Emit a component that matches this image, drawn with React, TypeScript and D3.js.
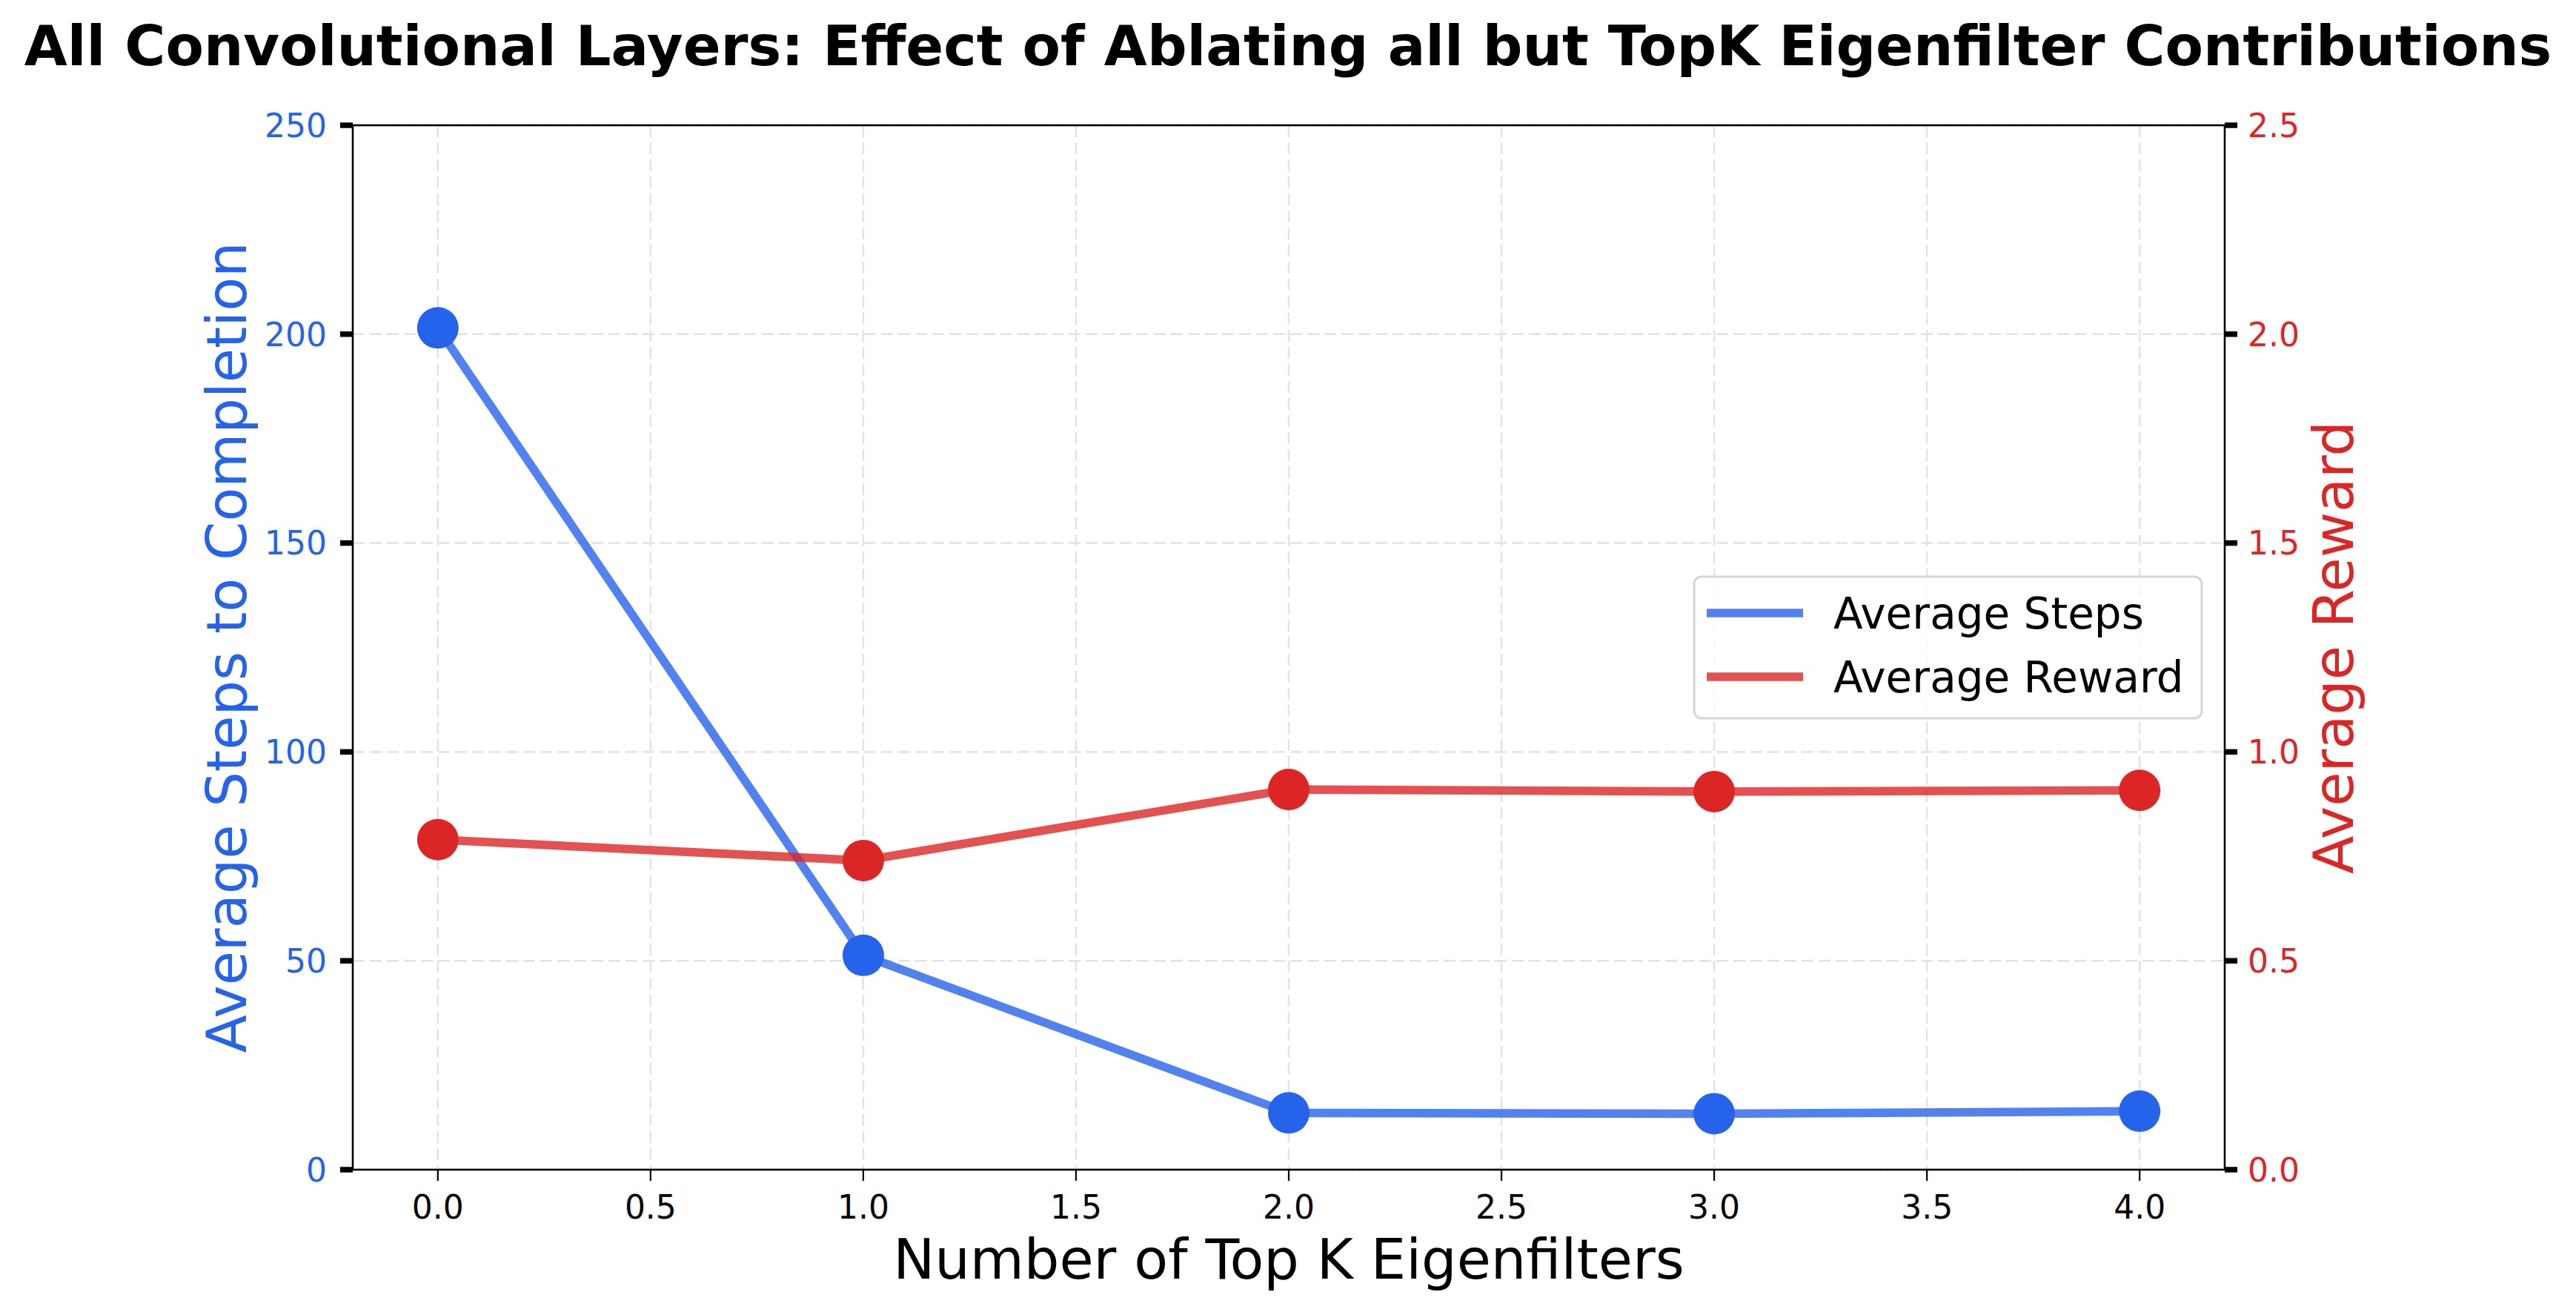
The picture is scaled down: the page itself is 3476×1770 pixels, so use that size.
import React from "react";
import * as d3 from "d3";

// values
const topK = [0, 1, 2, 3, 4];
const avgSteps = [201.5, 51.3, 13.6, 13.4, 14.0];
const avgReward = [0.79, 0.74, 0.91, 0.905, 0.908];
const xTicks = [0, 0.5, 1, 1.5, 2, 2.5, 3, 3.5, 4];
const stepTicks = [0, 50, 100, 150, 200, 250];
const rewardTicks = [0, 0.5, 1.0, 1.5, 2.0, 2.5];
const seriesNames = ["Average Steps", "Average Reward"];

const W = 3476;
const H = 1770;
const margin = { top: 169, right: 474, bottom: 192, left: 476 };
const FONT = "DejaVu Sans";
const BLUE = "#2563eb";
const RED = "#dc2626";

export default function App() {
  const innerW = W - margin.left - margin.right;
  const innerH = H - margin.top - margin.bottom;

  const x = d3.scaleLinear().domain([-0.2, 4.2]).range([0, innerW]);
  const yL = d3.scaleLinear().domain([0, 250]).range([innerH, 0]);
  const yR = d3.scaleLinear().domain([0, 2.5]).range([innerH, 0]);

  const stepLine = d3
    .line<number>()
    .x((_, i) => x(topK[i]))
    .y((d) => yL(d));
  const rewardLine = d3
    .line<number>()
    .x((_, i) => x(topK[i]))
    .y((d) => yR(d));

  return (
    <svg
      width={W}
      height={H}
      style={{ position: "absolute", left: 0, top: 0, background: "#fff" }}
      fontFamily={FONT}
    >
      <text
        x={W / 2}
        y={88}
        textAnchor="middle"
        fontSize={75}
        fontWeight="bold"
        fill="#000"
      >
        All Convolutional Layers: Effect of Ablating all but TopK Eigenfilter Contributions
      </text>

      <g transform={`translate(${margin.left},${margin.top})`}>
        {/* grid */}
        {xTicks.map((t) => (
          <line
            key={"gx" + t}
            x1={x(t)}
            x2={x(t)}
            y1={0}
            y2={innerH}
            stroke="#e3e3e3"
            strokeWidth={2.5}
            strokeDasharray="16,7"
          />
        ))}
        {stepTicks.map((t) => (
          <line
            key={"gy" + t}
            x1={0}
            x2={innerW}
            y1={yL(t)}
            y2={yL(t)}
            stroke="#e3e3e3"
            strokeWidth={2.5}
            strokeDasharray="16,7"
          />
        ))}

        {/* lines */}
        <path
          d={stepLine(avgSteps) || ""}
          fill="none"
          stroke={BLUE}
          strokeOpacity={0.8}
          strokeWidth={11.5}
        />
        <path
          d={rewardLine(avgReward) || ""}
          fill="none"
          stroke={RED}
          strokeOpacity={0.8}
          strokeWidth={11.5}
        />
        {avgSteps.map((d, i) => (
          <circle key={"bs" + i} cx={x(topK[i])} cy={yL(d)} r={28} fill={BLUE} />
        ))}
        {avgReward.map((d, i) => (
          <circle key={"rr" + i} cx={x(topK[i])} cy={yR(d)} r={28} fill={RED} />
        ))}

        {/* spines */}
        <rect
          x={0}
          y={0}
          width={innerW}
          height={innerH}
          fill="none"
          stroke="#000"
          strokeWidth={2.6}
        />

        {/* x axis */}
        {xTicks.map((t) => (
          <g key={"xt" + t} transform={`translate(${x(t)},${innerH})`}>
            <line y1={0} y2={15} stroke="#000" strokeWidth={2.2} />
            <text y={66} textAnchor="middle" fontSize={44} fill="#000">
              {d3.format(".1f")(t)}
            </text>
          </g>
        ))}

        {/* left axis */}
        {stepTicks.map((t) => (
          <g key={"yl" + t} transform={`translate(0,${yL(t)})`}>
            <line x1={-17} x2={0} stroke="#000" strokeWidth={7.5} />
            <text x={-35} dy="0.36em" textAnchor="end" fontSize={44} fill={BLUE}>
              {t}
            </text>
          </g>
        ))}

        {/* right axis */}
        {rewardTicks.map((t) => (
          <g key={"yr" + t} transform={`translate(${innerW},${yR(t)})`}>
            <line x1={0} x2={17} stroke="#000" strokeWidth={7.5} />
            <text x={31} dy="0.36em" textAnchor="start" fontSize={44} fill={RED}>
              {d3.format(".1f")(t)}
            </text>
          </g>
        ))}

        {/* axis labels */}
        <text
          x={innerW / 2}
          y={innerH + 147}
          textAnchor="middle"
          fontSize={75}
          fill="#000"
        >
          Number of Top K Eigenfilters
        </text>
        <text
          transform={`translate(${332 - margin.left},${innerH / 2}) rotate(-90)`}
          textAnchor="middle"
          fontSize={75}
          fill={BLUE}
        >
          Average Steps to Completion
        </text>
        <text
          transform={`translate(${3175 - margin.left},${innerH / 2}) rotate(-90)`}
          textAnchor="middle"
          fontSize={75}
          fill={RED}
        >
          Average Reward
        </text>

        {/* legend */}
        <g transform={`translate(${2286 - margin.left},${778 - margin.top})`}>
          <rect
            x={0}
            y={0}
            width={685}
            height={191}
            rx={10}
            fill="#fff"
            fillOpacity={0.8}
            stroke="#d6d6d6"
            strokeWidth={3}
          />
          {seriesNames.map((name, i) => (
            <g key={name} transform={`translate(0,${49 + i * 86})`}>
              <line
                x1={17}
                x2={147}
                stroke={i === 0 ? BLUE : RED}
                strokeOpacity={0.8}
                strokeWidth={11.5}
              />
              <text x={188} dy="0.36em" fontSize={58} fill="#000">
                {name}
              </text>
            </g>
          ))}
        </g>
      </g>
    </svg>
  );
}
